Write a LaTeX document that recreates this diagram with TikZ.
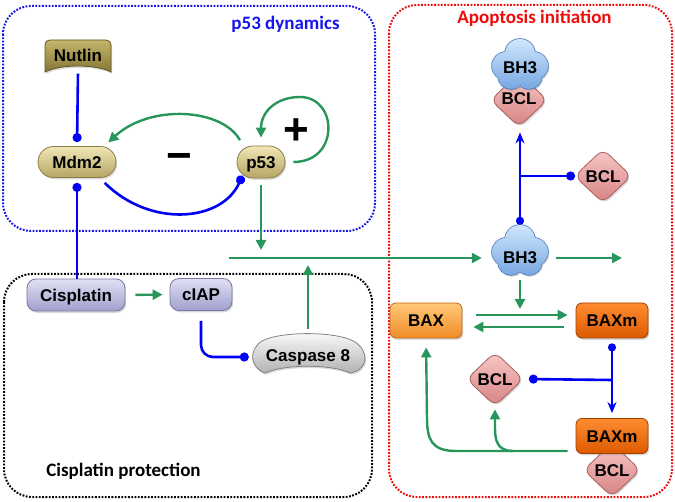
\documentclass[tikz,border=0pt]{standalone}
\usepackage{fontspec}
\setmainfont{Liberation Sans}
\newfontfamily\ttlfont{Carlito}
\usetikzlibrary{arrows.meta,shapes.geometric,shapes.misc,shadows}
\newcommand\genefont{\fontsize{17}{17}\selectfont\bfseries}
\newcommand\headfont{\ttlfont\fontsize{19}{19}\selectfont\bfseries}
\definecolor{grn}{RGB}{40,150,90}
\definecolor{blu}{RGB}{0,0,245}
\definecolor{nutT}{RGB}{196,182,110}
\definecolor{nutB}{RGB}{135,118,50}
\definecolor{nutD}{RGB}{95,85,35}
\definecolor{olT}{RGB}{240,230,182}
\definecolor{olB}{RGB}{182,166,100}
\definecolor{olD}{RGB}{140,125,70}
\definecolor{lavT}{RGB}{224,224,244}
\definecolor{lavB}{RGB}{160,160,205}
\definecolor{lavD}{RGB}{120,120,165}
\definecolor{casT}{RGB}{253,253,253}
\definecolor{casB}{RGB}{178,178,178}
\definecolor{casD}{RGB}{130,130,130}
\definecolor{baxT}{RGB}{255,200,120}
\definecolor{baxB}{RGB}{240,140,40}
\definecolor{baxD}{RGB}{190,105,20}
\definecolor{bxmT}{RGB}{255,140,50}
\definecolor{bxmB}{RGB}{220,90,0}
\definecolor{bxmD}{RGB}{160,65,0}
\definecolor{bclT}{RGB}{248,200,200}
\definecolor{bclB}{RGB}{215,130,130}
\definecolor{bclD}{RGB}{170,95,95}
\definecolor{bhT}{RGB}{208,230,252}
\definecolor{bhB}{RGB}{120,168,225}
\definecolor{bhD}{RGB}{85,130,190}
\definecolor{frB}{RGB}{20,20,235}
\definecolor{frR}{RGB}{240,10,10}
\begin{document}
\begin{tikzpicture}[x=1pt,y=-1pt,
  gene/.style={inner sep=0pt, text height=12.5pt, text depth=0pt, font=\genefont},
  shad/.style={drop shadow={opacity=0.3,shadow xshift=1.2pt,shadow yshift=-1.8pt}},
  olivebox/.style={gene, shape=rounded rectangle, draw=olD, line width=0.8pt, top color=olT, bottom color=olB, shad},
  lavbox/.style={gene, rectangle, rounded corners=9pt, draw=lavD, line width=0.8pt, top color=lavT, bottom color=lavB, shad, minimum height=32pt},
  baxbox/.style={gene, rectangle, rounded corners=6pt, draw=baxD, line width=0.8pt, top color=baxT, bottom color=baxB, shad, minimum width=72pt, minimum height=35pt},
  baxmbox/.style={baxbox, draw=bxmD, top color=bxmT, bottom color=bxmB},
  bclbox/.style={gene, diamond, rounded corners=8pt, draw=bclD, line width=0.8pt, top color=bclT, bottom color=bclB, shad, minimum width=57pt, minimum height=54pt},
  boxframe/.style={line width=2pt, dash pattern=on 1.8pt off 1.5pt, rounded corners=28pt},
  head/.style={font=\headfont, inner sep=0pt, anchor=base},
  act/.style={draw=grn, line width=2.4pt, -{Triangle[length=10pt,width=10pt]}},
  inh/.style={draw=blu, line width=2.6pt, -{Circle[length=9pt]}},
  barr/.style={draw=blu, line width=2.6pt, -{Stealth[length=11pt,width=9pt]}},
  pics/bhcloud/.style={code={
    \path[draw=bhD, line width=1.6pt, shad] (0,-10) circle[radius=15pt] (-14,2) circle[radius=14pt] (14,2) circle[radius=14pt] (-9,12) circle[radius=13pt] (9,12) circle[radius=13pt];
    \path[top color=bhT, bottom color=bhB] (0,-10) circle[radius=15pt] (-14,2) circle[radius=14pt] (14,2) circle[radius=14pt] (-9,12) circle[radius=13pt] (9,12) circle[radius=13pt] (0,3) circle[radius=15pt];
  }}
]
\useasboundingbox (0,0) rectangle (675,502);

% frames
\draw[boxframe, draw=frB] (3,6) rectangle (375,231);
\draw[boxframe, draw=frR] (389,5) rectangle (672,497);
\draw[boxframe, draw=black] (4,274) rectangle (372,497);

\node[head, text=frB] (tp53) at (285.5,30) {p53 dynamics};
\node[head, text=frR] (tapo) at (534.5,23.5) {Apoptosis initiation};
\node[head, text=black] (tcis) at (123.5,477) {Cisplatin protection};

% Nutlin
\path[draw=nutD, line width=0.8pt, top color=nutT, bottom color=nutB, shad]
  (45,72) -- (45,46) .. controls (45,42) and (47,40) .. (51,40) -- (105,40)
  .. controls (109,40) and (111,42) .. (111,46) -- (111,72)
  .. controls (96,64) and (60,64) .. (45,72) -- cycle;
\node[gene, minimum width=66pt, minimum height=33pt] (nut) at (78,55) {Nutlin};

% p53 module
\node[olivebox, minimum width=78pt, minimum height=31pt] (mdm2) at (77,162) {Mdm2};
\node[olivebox, minimum width=48pt, minimum height=32pt] (p53) at (261,162) {p53};
\node[font=\fontsize{44}{44}\selectfont\bfseries, inner sep=0pt] (minus) at (179.5,161.5) {−};
\node[font=\fontsize{44}{44}\selectfont\bfseries, inner sep=0pt] (plus) at (296,132) {+};

% Cisplatin module
\node[lavbox, minimum width=98pt] (cis) at (76,295) {Cisplatin};
\node[lavbox, minimum width=62pt] (ciap) at (201,294.5) {cIAP};
\path[draw=casD, line width=0.8pt, top color=casT, bottom color=casB, shad]
  (265,373) .. controls (250,368) and (248,350) .. (262,341)
  .. controls (280,331) and (338,331) .. (355,342)
  .. controls (370,352) and (368,370) .. (350,373)
  .. controls (332,364) and (284,364) .. (265,373) -- cycle;
\node[gene, minimum width=113pt, minimum height=40pt] (casp) at (308,355) {Caspase 8};

% apoptosis module
\node[bclbox] (bclup) at (519,100) {};
\pic at (520,64) {bhcloud};
\node[gene, text height=18.5pt, minimum width=56pt, minimum height=50pt] (bh3up) at (520,64) {BH3};
\node[gene] (bclupt) at (519,98) {BCL};

\node[bclbox] (bclr) at (603,176) {BCL};

\pic at (520,250) {bhcloud};
\node[gene, text height=28pt, minimum width=56pt, minimum height=50pt] (bh3) at (520,250) {BH3};

\node[baxbox] (bax) at (426,320.5) {BAX};
\node[baxmbox] (baxm) at (612,320.5) {BAXm};
\node[bclbox] (bclm) at (495,379) {BCL};
\node[bclbox] (bclb) at (612,470) {BCL};
\node[baxmbox] (baxm2) at (612,436) {BAXm};

% coordinates
\coordinate (hstart) at (229,258);
\coordinate (jp) at (261,258);
\coordinate (jc) at (308,258);
\coordinate (jb) at (520,176);
\coordinate (bhout) at (622,258);
\coordinate (jbax) at (520,315);
\coordinate (jx) at (612,380);

% p53 connectors
\draw[inh, shorten <=2pt, shorten >=4pt] (nut.south) -- (mdm2.north);
\draw[inh, shorten >=5pt] (mdm2.south |- cis.north) -- (mdm2.south);
\draw[inh, shorten <=7pt, shorten >=1pt] (mdm2.-35) .. controls (150,228) and (222,222) .. (p53.-145);
\draw[act, shorten <=9pt, shorten >=6pt] (p53.140) .. controls (222,108) and (150,104) .. (mdm2.30);
\draw[act, shorten <=8pt, shorten >=8pt] (p53.east) .. controls (340,162) and (338,97) .. (300,97) .. controls (276,97) and (261,112) .. (p53.north);
\draw[act, shorten <=7pt, shorten >=8pt] (p53.south) -- (jp);

% main horizontal
\draw[act, shorten >=10pt] (hstart) -- ([yshift=-8pt]bh3.west);
\draw[act, shorten <=6pt, shorten >=7pt] (casp.north) -- (jc);
\draw[act, shorten <=8pt] ([yshift=-8pt]bh3.east) -- (bhout);

% cisplatin connectors
\draw[act, shorten <=10pt, shorten >=7pt] (cis.east) -- (ciap.west);
\draw[inh, rounded corners=12pt, shorten <=10pt, shorten >=2.5pt] (ciap.south) |- ([yshift=-2pt]casp.west);

% apoptosis connectors
\draw[barr, {Circle[length=8pt]}-{Stealth[length=11pt,width=9pt]}, shorten >=5pt] (bh3.north) -- (bh3.north |- bclup.south);
\draw[inh, shorten >=-1pt] (jb) -- (bclr.west);
\draw[act, shorten <=5pt, shorten >=6pt] (bh3.south) -- (jbax);
\draw[act, shorten <=14pt, shorten >=8pt] ([yshift=5.5pt]bax.east) -- ([yshift=5.5pt]baxm.west);
\draw[act, shorten <=12pt, shorten >=11pt] ([yshift=-6.5pt]baxm.west) -- ([yshift=-6.5pt]bax.east);
\draw[barr, {Circle[length=8pt]}-{Stealth[length=11pt,width=9pt]}, shorten <=5pt, shorten >=5pt] (baxm.south) -- (baxm2.north);
\draw[inh, shorten >=5pt] (jx) -- (bclm.east);
\draw[act, shorten <=8pt, shorten >=9pt] ([yshift=-15pt]baxm2.west) -- (456,451) .. controls (432,451) and (427,440) .. (427,418) -- (bax.south);
\draw[act, shorten >=3pt] (513,451) .. controls (497,451) and (495,440) .. (495,428) -- (bclm.south);
\end{tikzpicture}
\end{document}
